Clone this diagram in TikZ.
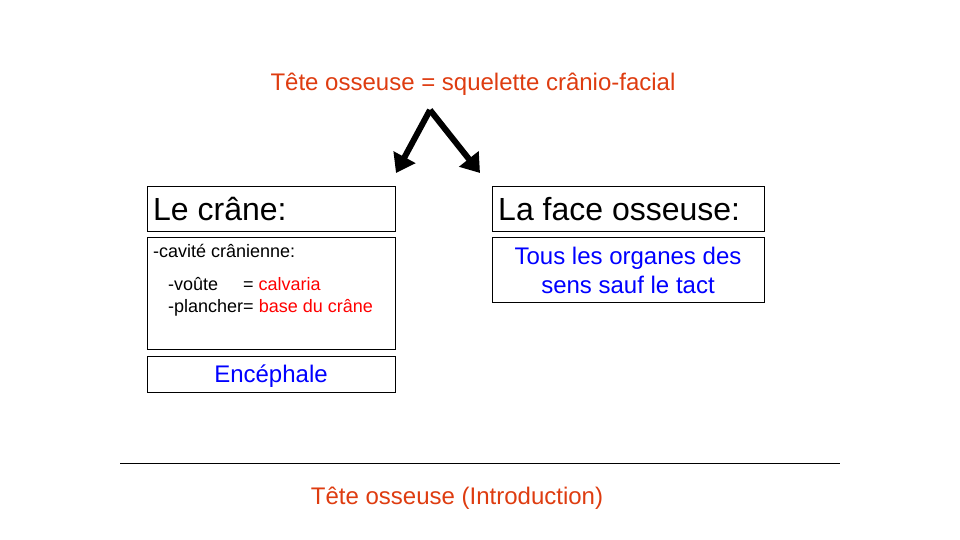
\documentclass[tikz,border=0pt]{standalone}
\usepackage{fontspec}
\setmainfont{Liberation Sans}
\usetikzlibrary{arrows.meta}
\definecolor{titlered}{RGB}{222,60,16}
\definecolor{txtred}{RGB}{255,0,0}
\definecolor{txtblue}{RGB}{0,0,255}
\begin{document}
\begin{tikzpicture}[x=1pt,y=-1pt,
  box/.style={draw=black,line width=1pt,inner sep=0pt},
  bigarrow/.style={line width=6pt,-{Triangle[length=18pt,width=24pt]}},
  large/.style={font=\fontsize{24}{29}\selectfont},
  huge/.style={font=\fontsize{32}{38}\selectfont},
  small/.style={font=\fontsize{18}{22}\selectfont}]
\useasboundingbox (0,0) rectangle (960,540);
% heading
\node[text=titlered,large] (title) at (473,84) {Tête osseuse = squelette crânio-facial};
% branching arrows
\coordinate (apex) at (430,110);
\coordinate (lefttip) at (396,173);
\coordinate (righttip) at (480,173);
\draw[bigarrow] (apex) -- (lefttip);
\draw[bigarrow] (apex) -- (righttip);
% left column
\node[box,minimum width=248pt,minimum height=45pt] (crane) at (271,208.5) {};
\node[anchor=west,huge,inner sep=0pt] at (153,209) {Le crâne:};
\node[box,minimum width=248pt,minimum height=112pt] (cavite) at (271,293) {};
\node[anchor=base west,small,inner sep=0pt] at (153,257) {-cavité crânienne:};
\node[anchor=base west,small,inner sep=0pt] at (168,290) {-voûte};
\node[anchor=base west,small,inner sep=0pt] at (243,290) {= \textcolor{txtred}{calvaria}};
\node[anchor=base west,small,inner sep=0pt] at (168,312) {-plancher= \textcolor{txtred}{base du crâne}};
\node[box,minimum width=248pt,minimum height=36pt] (encephale) at (271,374) {};
\node[text=txtblue,large] at (271,376) {Encéphale};
% right column
\node[box,minimum width=272pt,minimum height=45pt] (face) at (628,208.5) {};
\node[anchor=west,huge,inner sep=0pt] at (498,209) {La face osseuse:};
\node[box,minimum width=272pt,minimum height=65pt] (organes) at (628,269.5) {};
\node[text=txtblue,large,align=center] at (628,270.5) {Tous les organes des\\sens sauf le tact};
% footer rule and caption
\coordinate (ruleL) at (120,463);
\coordinate (ruleR) at (840,463);
\draw[line width=1pt] (ruleL) -- (ruleR);
\node[text=titlered,large] (footer) at (457,498) {Tête osseuse (Introduction)};
\end{tikzpicture}
\end{document}
